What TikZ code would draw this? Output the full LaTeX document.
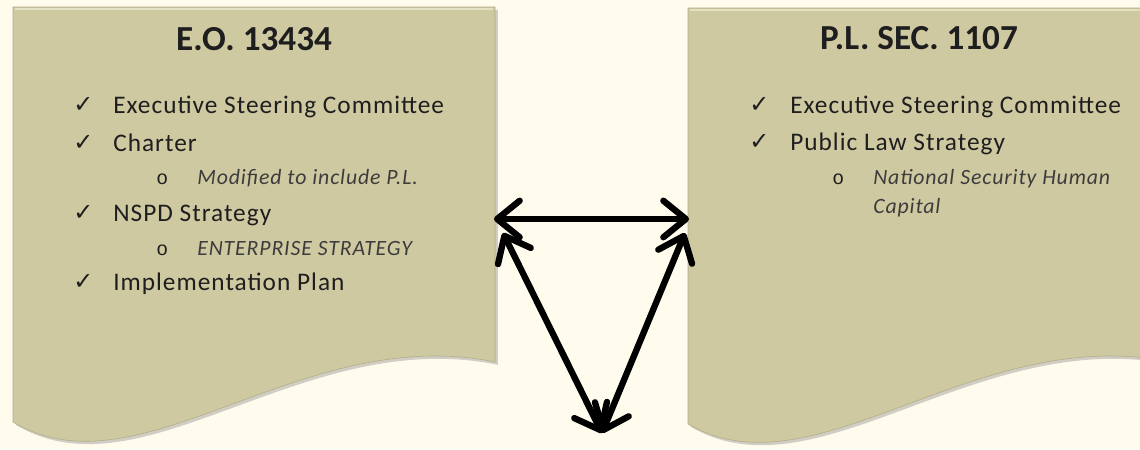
\documentclass[tikz,border=0pt]{standalone}
\usepackage{fontspec}
\setmainfont{Carlito}
\newfontfamily\symfont{DejaVu Sans}
\newfontfamily\bulletfont{Liberation Mono}
\newfontfamily\spacedfont[LetterSpace=4]{Carlito}
\usepackage{tikz}
\usetikzlibrary{arrows.meta,positioning,shadows}
\definecolor{pagebg}{RGB}{255,252,238}
\definecolor{docfill}{RGB}{207,201,162}
\definecolor{docedge}{RGB}{178,172,134}
\definecolor{doclight}{RGB}{228,224,196}
\definecolor{textdark}{RGB}{30,30,30}
\definecolor{textsub}{RGB}{60,60,60}
\tikzset{
docshape/.style={fill=docfill, draw=docedge, thin,
  drop shadow={shadow xshift=2pt, shadow yshift=-2pt, opacity=.3, fill=black!60}},
doctitle/.style={font=\bfseries\fontsize{25}{30}\selectfont, text=textdark, inner sep=0pt},
check/.style={font=\symfont\fontsize{17}{20}\selectfont, text=textdark, inner sep=0pt, anchor=base west},
item/.style={font=\spacedfont\fontsize{18}{21}\selectfont, text=textdark, inner sep=0pt, anchor=base west},
subbullet/.style={font=\bulletfont\fontsize{14}{16}\selectfont, text=textdark, inner sep=0pt, anchor=base west},
subitem/.style={font=\spacedfont\itshape\fontsize{15.5}{18}\selectfont, text=textsub, inner sep=0pt, anchor=base west},
biarr/.style={{Straight Barb[length=16pt,width=26pt,round]}-{Straight Barb[length=16pt,width=26pt,round]},
  line width=4.5pt, black},
}

\begin{document}
\begin{tikzpicture}[x=0.025cm,y=-0.025cm]

        \path[use as bounding box, fill=pagebg] (0,0) rectangle (1140,449);
        \clip (0,0) rectangle (1140,449);

        % Document E.O.
        \draw[docshape] (13,7) -- (495,7) -- (495,362)
        .. controls (300,322) and (140,498) .. (13,422) -- cycle;
        \draw[doclight, thick] (15,9) -- (493,9);
        % Document P.L.
        \draw[docshape] (688,8) -- (1170,8) -- (1170,362)
        .. controls (975,322) and (815,498) .. (688,424) -- cycle;
        \draw[doclight, thick] (690,10) -- (1168,10);

        % Titles
        \node[doctitle] (eoTitle) at (254,39) {E.O. 13434};
        \node[doctitle] (plTitle) at (919,38) {P.L. SEC. 1107};

        % E.O. list
        \node[check] (eoCheckA) at (73,112) {✓};
        \node[item] (eoItemA) at (113,113) {Executive Steering Committee};
        \node[check] (eoCheckB) at (73,150) {✓};
        \node[item] (eoItemB) at (113,151) {Charter};
        \node[subbullet] (eoBulletA) at (156,184) {o};
        \node[subitem] (eoSubA) at (197,184) {Modified to include P.L.};
        \node[check] (eoCheckC) at (73,220) {✓};
        \node[item] (eoItemC) at (113,221) {NSPD Strategy};
        \node[subbullet] (eoBulletB) at (156,255) {o};
        \node[subitem] (eoSubB) at (197,255) {ENTERPRISE STRATEGY};
        \node[check] (eoCheckD) at (73,289) {✓};
        \node[item] (eoItemD) at (113,290) {Implementation Plan};

        % P.L. list
        \node[check] (plCheckA) at (749,112) {✓};
        \node[item] (plItemA) at (790,113) {Executive Steering Committee};
        \node[check] (plCheckB) at (749,149) {✓};
        \node[item] (plItemB) at (790,150) {Public Law Strategy};
        \node[subbullet] (plBulletA) at (832,184) {o};
        \node[subitem] (plSubA) at (873,184) {National Security Human};
        \node[subitem] (plSubB) at (873,213) {Capital};

        % Link points
        \coordinate (eoPort) at (494,219);
        \coordinate (plPort) at (689,219);
        \coordinate (eoCorner) at (503,233);
        \coordinate (plCorner) at (685,233);
        \coordinate (meet) at (602,433);

        % Arrows
        \draw[biarr] (eoPort) -- (plPort);
        \draw[biarr] (eoCorner) -- (meet);
        \draw[biarr] (meet) -- (plCorner);

\end{tikzpicture}
\end{document}
